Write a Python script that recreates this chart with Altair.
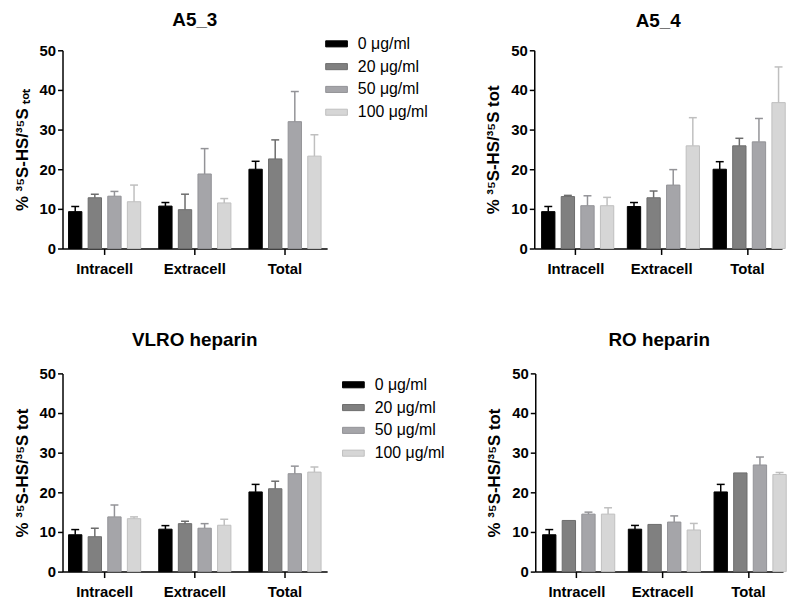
import altair as alt
import pandas as pd

categories = ["Intracell", "Extracell", "Total"]
doses = ["0 μg/ml", "20 μg/ml", "50 μg/ml", "100 μg/ml"]
fill_colors = ["#000000", "#808080", "#a5a5a9", "#d6d6d6"]
stroke_colors = ["#000000", "#6c6c6c", "#939397", "#bfbfbf"]

# rows: Intracell, Extracell, Total ; columns: doses
a5_3_means = [[9.3, 12.8, 13.2, 11.8], [10.7, 9.8, 18.8, 11.5], [20.0, 22.6, 32.0, 23.3]]
a5_3_errs = [[1.3, 0.9, 1.2, 4.2], [0.9, 3.9, 6.4, 1.1], [2.0, 4.8, 7.6, 5.4]]

a5_4_means = [[9.3, 13.1, 10.8, 10.8], [10.6, 12.8, 16.0, 25.9], [20.0, 25.9, 26.9, 36.8]]
a5_4_errs = [[1.3, 0.3, 2.5, 2.1], [1.0, 1.7, 3.9, 7.1], [1.9, 1.9, 5.9, 9.0]]

vlro_means = [[9.3, 8.8, 13.8, 13.35], [10.7, 12.1, 10.95, 11.7], [20.1, 20.9, 24.7, 25.1]]
vlro_errs = [[1.3, 2.15, 3.0, 0.45], [0.9, 0.6, 1.15, 1.5], [1.9, 1.9, 1.9, 1.3]]

ro_means = [[9.3, 12.9, 14.5, 14.5], [10.7, 11.9, 12.5, 10.5], [20.1, 24.9, 26.9, 24.5]]
ro_errs = [[1.3, 0.0, 0.5, 1.6], [0.95, 0.0, 1.55, 1.65], [1.9, 0.0, 2.0, 0.5]]

y_ticks = [0, 10, 20, 30, 40, 50]
ytitle_sub = "% ³⁵S-HS/³⁵S ₜₒₜ"
ytitle = "% ³⁵S-HS/³⁵S tot"

FONT = "Liberation Sans"


def make_df(means, errs):
    rows = []
    for ci, cat in enumerate(categories):
        for di, dose in enumerate(doses):
            rows.append({"cat": cat, "dose": dose, "mean": means[ci][di],
                         "err": errs[ci][di], "top": means[ci][di] + errs[ci][di]})
    return pd.DataFrame(rows)


def panel(title, means, errs, yt, width, height, title_offset, xscale, legend_pos=None):
    df = make_df(means, errs)
    base = alt.Chart(df)
    x = alt.X("cat:N", sort=categories, scale=xscale,
              axis=alt.Axis(title=None, labelAngle=0, tickSize=6, labelPadding=7,
                            labelFontSize=15))
    xo = alt.XOffset("dose:N", sort=doses,
                     scale=alt.Scale(domain=doses, paddingInner=0.32, paddingOuter=0))
    yscale = alt.Scale(domain=[0, 50], nice=False)
    yaxis = alt.Axis(values=y_ticks, title=yt, tickSize=5, titlePadding=8,
                     labelOverlap=False)
    if legend_pos is not None:
        leg = alt.Legend(orient="none", legendX=legend_pos[0], legendY=legend_pos[1],
                         title=None, symbolType="M-1,-0.28H1V0.28H-1Z", symbolSize=480,
                         symbolStrokeWidth=1, labelFontSize=16, labelFont=FONT,
                         labelColor="black", rowPadding=3, labelOffset=10,
                         symbolOpacity=1)
    else:
        leg = None
    fill = alt.Fill("dose:N", sort=doses,
                    scale=alt.Scale(domain=doses, range=fill_colors), legend=leg)
    stroke = alt.Stroke("dose:N", sort=doses,
                        scale=alt.Scale(domain=doses, range=stroke_colors), legend=leg)
    bars = base.mark_bar(strokeWidth=1, opacity=1).encode(
        x=x, xOffset=xo, y=alt.Y("mean:Q", scale=yscale, axis=yaxis),
        fill=fill, stroke=stroke)
    rules = base.transform_filter("datum.err > 0").mark_rule(strokeWidth=1.5).encode(
        x=x, xOffset=xo, y=alt.Y("mean:Q", scale=yscale, axis=yaxis), y2="top:Q",
        stroke=stroke)
    caps = base.transform_filter("datum.err > 0").mark_tick(
        size=8, thickness=1.5, orient="horizontal", opacity=1).encode(
        x=x, xOffset=xo, y=alt.Y("top:Q", scale=yscale, axis=yaxis),
        color=alt.Color("dose:N", sort=doses,
                        scale=alt.Scale(domain=doses, range=stroke_colors), legend=None))
    return alt.layer(bars, rules, caps).properties(
        width=width, height=height,
        title=alt.TitleParams(title, fontSize=19, font=FONT, fontWeight="bold",
                              color="black", offset=title_offset))


left_x = alt.Scale(paddingInner=0.2, paddingOuter=0.067)
right_x = alt.Scale(paddingInner=0.2, paddingOuter=0.045, align=0.95)

p1 = panel("A5_3", a5_3_means, a5_3_errs, ytitle_sub, 267, 200, 3, left_x, (265, -18))
p2 = panel("A5_4", a5_4_means, a5_4_errs, ytitle, 250, 200, 13, right_x)
p3 = panel("VLRO heparin", vlro_means, vlro_errs, ytitle, 267, 200, 17, left_x, (282, 0))
p4 = panel("RO heparin", ro_means, ro_errs, ytitle, 250, 200, 17, right_x)

res = dict(fill="independent", stroke="independent", color="independent")
row1 = alt.hconcat(p1, p2, spacing=57).resolve_scale(**res)
row2 = alt.hconcat(p3, p4, spacing=41).resolve_scale(**res)

chart = alt.vconcat(row1, row2, spacing=55).resolve_scale(**res).configure_view(
    stroke=None
).configure_axis(
    domainColor="black", domainWidth=1.5, tickColor="black", tickWidth=1.5,
    labelFont=FONT, labelFontWeight="bold", labelFontSize=15, labelColor="black",
    titleFont=FONT, titleFontWeight="bold", titleFontSize=17, titleColor="black",
    grid=False
).properties(padding={"left": 5, "top": 0, "right": 0, "bottom": 0})

chart.save("out.html", embed_options={"renderer": "svg", "actions": False})
